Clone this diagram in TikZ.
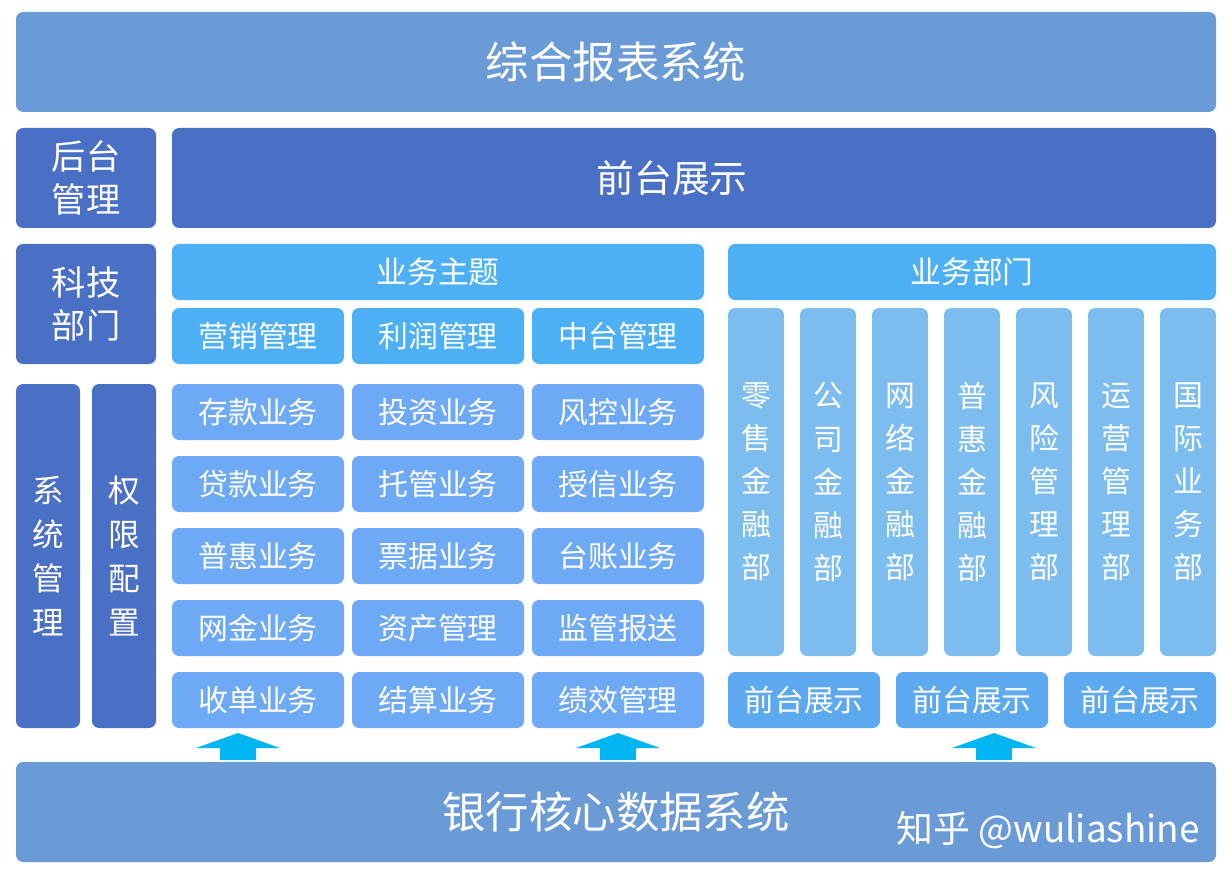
\documentclass[tikz,border=0pt]{standalone}
\usepackage{fontspec}
\setmainfont{Noto Sans CJK SC}
\usetikzlibrary{positioning}
\usetikzlibrary{arrows.meta}

\definecolor{barblue}{HTML}{6A9BD6}
\definecolor{darkblue}{HTML}{4A70C6}
\definecolor{skyblue}{HTML}{4EB0F4}
\definecolor{cellblue}{HTML}{6DA9F4}
\definecolor{deptblue}{HTML}{7CBCEE}
\definecolor{pillblue}{HTML}{5CA9F0}
\definecolor{arrowcyan}{HTML}{00B6F2}

\tikzset{
  blk/.style={rounded corners=4pt},
  lbl/.style={text=white,align=center,inner sep=0pt},
  up/.style={fill=arrowcyan,draw=none}
}

\begin{document}
\begin{tikzpicture}[x=0.02cm,y=-0.02cm]
\useasboundingbox (0,0) rectangle (1232,882);

% frames
\path[blk,fill=barblue] (16,12) rectangle (1216,112);
\node[lbl,font=\fontsize{24.7}{28}\selectfont] (title) at (616,62) {综合报表系统};
\path[blk,fill=darkblue] (16,128) rectangle (156,228);
\node[lbl,font=\fontsize{19.5}{24}\selectfont] (back) at (86,178) {后台\\管理};
\path[blk,fill=darkblue] (172,128) rectangle (1216,228);
\node[lbl,font=\fontsize{21.5}{24}\selectfont] (front) at (672,178) {前台展示};
\path[blk,fill=darkblue] (16,244) rectangle (156,364);
\node[lbl,font=\fontsize{19.5}{24}\selectfont] (tech) at (86,304) {科技\\部门};
\path[blk,fill=darkblue] (16,384) rectangle (80,728);
\node[lbl,font=\fontsize{18}{25}\selectfont] (sys) at (48,556) {系\\统\\管\\理};
\path[blk,fill=darkblue] (92,384) rectangle (156,728);
\node[lbl,font=\fontsize{18}{25}\selectfont] (perm) at (124,556) {权\\限\\配\\置};

% business topics
\path[blk,fill=skyblue] (172,244) rectangle (704,300);
\node[lbl,font=\fontsize{17.5}{20}\selectfont] (topic) at (438,272) {业务主题};
\path[blk,fill=skyblue] (728,244) rectangle (1216,300);
\node[lbl,font=\fontsize{17.5}{20}\selectfont] (dep) at (972,272) {业务部门};

\foreach \x/\t in {172/营销管理,352/利润管理,532/中台管理}{
  \path[blk,fill=skyblue] (\x,308) rectangle ++(172,56);
  \node[lbl,font=\fontsize{17}{20}\selectfont] at (\x+86,336) {\t};
}

\foreach \y/\a/\b/\c in {384/存款业务/投资业务/风控业务,
                          456/贷款业务/托管业务/授信业务,
                          528/普惠业务/票据业务/台账业务,
                          600/网金业务/资产管理/监管报送,
                          672/收单业务/结算业务/绩效管理}{
  \foreach \x/\t in {172/\a,352/\b,532/\c}{
    \path[blk,fill=cellblue] (\x,\y) rectangle ++(172,56);
    \node[lbl,font=\fontsize{17}{20}\selectfont] at (\x+86,\y+28) {\t};
  }
}

% departments
\foreach \x/\t in {728/零\\售\\金\\融\\部,800/公\\司\\金\\融\\部,872/网\\络\\金\\融\\部,
                   944/普\\惠\\金\\融\\部,1016/风\\险\\管\\理\\部,1088/运\\营\\管\\理\\部,
                   1160/国\\际\\业\\务\\部}{
  \path[blk,fill=deptblue] (\x,308) rectangle ++(56,348);
  \node[lbl,font=\fontsize{17}{24.5}\selectfont] at (\x+28,482) {\t};
}
\foreach \x in {728,896,1064}{
  \path[blk,fill=pillblue] (\x,672) rectangle ++(152,56);
  \node[lbl,font=\fontsize{17}{20}\selectfont] at (\x+76,700) {前台展示};
}

% arrows
\foreach \x in {238,618,994}
  \fill[up] (\x-42,748) -- (\x-18,748) -- (\x-18,760) -- (\x+18,760) -- (\x+18,748)
    -- (\x+42,748) -- (\x,733) -- cycle;

% bottom
\path[blk,fill=barblue] (16,762) rectangle (1216,862);
\node[lbl,font=\fontsize{24.7}{28}\selectfont] (core) at (616,812) {银行核心数据系统};
\node[lbl,anchor=east,font=\fontsize{21}{24}\selectfont] (mark) at (1200,830) {知乎 @wuliashine};
\end{tikzpicture}
\end{document}
